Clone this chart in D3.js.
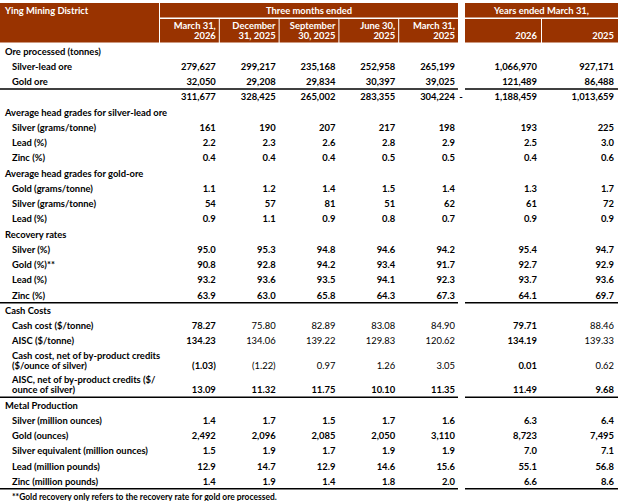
<!DOCTYPE html>
<html>
<head>
<meta charset="utf-8">
<script src="https://cdn.jsdelivr.net/npm/d3@7"></script>
<style>
    body { margin: 0; background: #fff; }
    svg { display: block; }
    text { font-family: Lato, 'Open Sans', sans-serif; }
</style>
</head>
<body>
<div id="chart"></div>
<script>
'use strict';

// Column headings
const quarterLabels = [["March 31,", "2026"], ["December", "31, 2025"], ["September", "30, 2025"], ["June 30,", "2025"], ["March 31,", "2025"]];
const yearLabels = ["2026", "2025"];

// Ore processed (tonnes)
const oreLabels = ["Silver-lead ore", "Gold ore"];
const oreValues = [
    [279627, 299217, 235168, 252958, 265199, 1066970, 927171],
    [32050, 29208, 29834, 30397, 39025, 121489, 86488]
];
const oreTotals = [311677, 328425, 265002, 283355, 304224, 1188459, 1013659];

// Average head grades for silver-lead ore
const silverLeadLabels = ["Silver (grams/tonne)", "Lead (%)", "Zinc (%)"];
const silverLeadValues = [
    [161, 190, 207, 217, 198, 193, 225],
    [2.2, 2.3, 2.6, 2.8, 2.9, 2.5, 3.0],
    [0.4, 0.4, 0.4, 0.5, 0.5, 0.4, 0.6]
];
const silverLeadDecimals = [0, 1, 1];

// Average head grades for gold-ore
const goldOreLabels = ["Gold (grams/tonne)", "Silver (grams/tonne)", "Lead (%)"];
const goldOreValues = [
    [1.1, 1.2, 1.4, 1.5, 1.4, 1.3, 1.7],
    [54, 57, 81, 51, 62, 61, 72],
    [0.9, 1.1, 0.9, 0.8, 0.7, 0.9, 0.9]
];
const goldOreDecimals = [1, 0, 1];

// Recovery rates
const recoveryLabels = ["Silver (%)", "Gold (%)**", "Lead (%)", "Zinc (%)"];
const recoveryValues = [
    [95.0, 95.3, 94.8, 94.6, 94.2, 95.4, 94.7],
    [90.8, 92.8, 94.2, 93.4, 91.7, 92.7, 92.9],
    [93.2, 93.6, 93.5, 94.1, 92.3, 93.7, 93.6],
    [63.9, 63.0, 65.8, 64.3, 67.3, 64.1, 69.7]
];
const recoveryDecimals = [1, 1, 1, 1];

// Cash costs
const cashLabels = ["Cash cost ($/tonne)", "AISC ($/tonne)", "Cash cost, net of by-product credits\n($/ounce of silver)", "AISC, net of by-product credits ($/\nounce of silver)"];
const cashValues = [
    [78.27, 75.80, 82.89, 83.08, 84.90, 79.71, 88.46],
    [134.23, 134.06, 139.22, 129.83, 120.62, 134.19, 139.33],
    [-1.03, -1.22, 0.97, 1.26, 3.05, 0.01, 0.62],
    [13.09, 11.32, 11.75, 10.10, 11.35, 11.49, 9.68]
];
const cashDecimals = [2, 2, 2, 2];
const cashRegularRows = [0, 1, 2];
const cashRegularCols = [1, 2, 3, 4, 6];

// Metal production
const metalLabels = ["Silver (million ounces)", "Gold (ounces)", "Silver equivalent (million ounces)", "Lead (million pounds)", "Zinc (million pounds)"];
const metalValues = [
    [1.4, 1.7, 1.5, 1.7, 1.6, 6.3, 6.4],
    [2492, 2096, 2085, 2050, 3110, 8723, 7495],
    [1.5, 1.9, 1.7, 1.9, 1.9, 7.0, 7.1],
    [12.9, 14.7, 12.9, 14.6, 15.6, 55.1, 56.8],
    [1.4, 1.9, 1.4, 1.8, 2.0, 6.6, 8.6]
];
const metalDecimals = [1, 0, 1, 1, 1];

const footnote = "**Gold recovery only refers to the recovery rate for gold ore processed.";


const width = 621;
const height = 501;
const brown = '#993300';
const sx = 0.94; // horizontal squeeze, the source uses a narrow font
const fontSize = 10;

// Build the flat row list
let rows = [];
const addSection = function(title, labels, values, decimals) {
    rows.push({ type: 'title', label: title });
    labels.forEach(function(l, i) {
        rows.push({ type: 'item', label: l, values: values[i], dec: decimals[i], section: title, idx: i });
    });
};

addSection("Ore processed (tonnes)", oreLabels, oreValues, [0, 0]);
rows[rows.length - 1].rule = true;
rows.push({ type: 'total', label: '', values: oreTotals, dec: 0 });
addSection("Average head grades for silver-lead ore", silverLeadLabels, silverLeadValues, silverLeadDecimals);
addSection("Average head grades for gold-ore", goldOreLabels, goldOreValues, goldOreDecimals);
addSection("Recovery rates", recoveryLabels, recoveryValues, recoveryDecimals);
rows[rows.length - 1].rule = true;
addSection("Cash Costs", cashLabels, cashValues, cashDecimals);
rows[rows.length - 1].rule = true;
addSection("Metal Production", metalLabels, metalValues, metalDecimals);
rows[rows.length - 1].rule = true;

let unit = 0;
rows.forEach(function(r, i) {
    r.twoLine = r.label.indexOf('\n') >= 0;
    if (i > 0) unit += r.twoLine ? 1.6 : 1;
    r.pos = unit;
});

// Scales
const y = d3.scaleLinear().domain([0, 1]).range([51, 66.26]);
const xQuarter = d3.scaleBand().domain(d3.range(quarterLabels.length)).range([160, 459]);
const xYear = d3.scaleBand().domain(d3.range(yearLabels.length)).range([465, 619]);

const colLeft = function(c) { return c < 5 ? xQuarter(c) : xYear(c - 5); };
const colWidth = function(c) { return c < 5 ? xQuarter.bandwidth() : xYear.bandwidth(); };
const colRight = function(c) { return colLeft(c) + colWidth(c) - (c < 5 ? 4 : 5); };

const fmt = function(v, dec) {
    const s = d3.format(',.' + dec + 'f')(Math.abs(v));
    return v < 0 ? '(' + s + ')' : s;
};

const svg = d3.select('#chart').append('svg').attr('width', width).attr('height', height);

const addText = function(g, x, yy, str, opts) {
    opts = opts || {};
    return g.append('text')
        .attr('transform', `translate(${x}, ${yy}) scale(${sx}, 1)`)
        .attr('dy', '0.35em')
        .attr('text-anchor', opts.anchor || 'start')
        .attr('font-weight', opts.weight || 'bold')
        .attr('font-size', opts.size || fontSize)
        .attr('fill', opts.fill || '#000')
        .text(str);
};

/* -- Header ---------------------------------------------------------- */
const header = svg.append('g').attr('class', 'header');

header.append('rect').attr('x', 0).attr('y', 3).attr('width', 159).attr('height', 39.5).attr('fill', brown);
header.append('rect').attr('x', 160).attr('y', 3).attr('width', 298).attr('height', 14.5).attr('fill', brown);
header.append('rect').attr('x', 465).attr('y', 3).attr('width', 153).attr('height', 14.5).attr('fill', brown);

header.selectAll('.colhead')
    .data(d3.range(7))
    .enter().append('rect')
    .attr('class', 'colhead')
    .attr('x', d => colLeft(d))
    .attr('y', 19)
    .attr('width', d => colWidth(d) - 1)
    .attr('height', 23.5)
    .attr('fill', brown);

addText(header, 5, 10.5, 'Ying Mining District', { fill: '#fff' });
addText(header, 160 + 298 / 2, 10.5, 'Three months ended', { fill: '#fff', anchor: 'middle' });
addText(header, 465 + 153 / 2, 10.5, 'Years ended March 31,', { fill: '#fff', anchor: 'middle' });

quarterLabels.forEach(function(lines, c) {
    addText(header, colRight(c), 25.5, lines[0], { fill: '#fff', anchor: 'end' });
    addText(header, colRight(c), 35.8, lines[1], { fill: '#fff', anchor: 'end' });
});
yearLabels.forEach(function(l, i) {
    addText(header, colRight(i + 5), 35.8, l, { fill: '#fff', anchor: 'end' });
});

/* -- Body ------------------------------------------------------------ */
const body = svg.append('g').attr('class', 'body');

rows.forEach(function(r) {
    const cy = y(r.pos);
    if (r.type === 'title') {
        addText(body, 5, cy, r.label);
    } else {
        const parts = r.label.split('\n');
        if (parts.length > 1) {
            addText(body, 12, cy - 9.8, parts[0]);
            addText(body, 12, cy, parts[1]);
        } else if (r.label) {
            addText(body, 12, cy, r.label);
        }
        r.values.forEach(function(v, c) {
            const regular = r.section === 'Cash Costs' && cashRegularRows.indexOf(r.idx) >= 0 && cashRegularCols.indexOf(c) >= 0;
            addText(body, colRight(c), cy, fmt(v, r.dec), { anchor: 'end', weight: regular ? 'normal' : 'bold' });
        });
        if (r.type === 'total') addText(body, 461, cy, '-', { anchor: 'middle' });
    }
    if (r.rule) {
        const ry = cy + 7.5;
        body.append('line').attr('x1', 0).attr('x2', 458).attr('y1', ry).attr('y2', ry)
            .attr('stroke', '#000').attr('stroke-width', 1.5);
        body.append('line').attr('x1', 465).attr('x2', 618).attr('y1', ry).attr('y2', ry)
            .attr('stroke', '#000').attr('stroke-width', 1.5);
    }
});

addText(svg, 12, y(rows[rows.length - 1].pos + 1), footnote, { size: 9 });
</script>
</body>
</html>
